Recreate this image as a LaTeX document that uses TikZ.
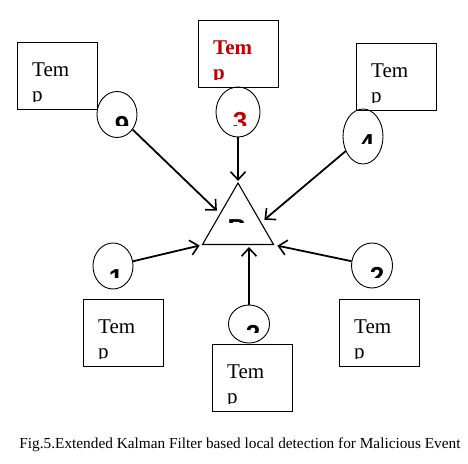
\documentclass[tikz,border=0pt]{standalone}
\usepackage{fontspec}
\setmainfont{Liberation Serif}
\newfontfamily\numfont{Liberation Sans}
\usepackage{tikz}
\usetikzlibrary{arrows.meta,positioning,shapes.geometric,calc}
\definecolor{TempRed}{HTML}{C00000}
\tikzset{
  wsn/temp/.style={draw, line width=1.1pt, minimum width=80pt, minimum height=67pt, inner sep=0pt, anchor=north west},
  wsn/sensor/.style={draw, ellipse, line width=0.9pt, minimum width=40pt, minimum height=46pt, inner sep=0pt},
  wsn/sink/.style={draw, regular polygon, regular polygon sides=3, minimum size=82pt, inner sep=0pt, line width=1.1pt},
  wsn/text/.style={font=\fontsize{21}{25}\selectfont, inner sep=0pt, anchor=base west},
  wsn/redtext/.style={wsn/text, text=TempRed, font=\bfseries\fontsize{21}{25}\selectfont},
  wsn/num/.style={font=\numfont\bfseries\fontsize{26}{30}\selectfont, inner sep=0pt, anchor=north},
  wsn/link/.style={line width=1.8pt, -{Straight Barb[length=8pt, width=15pt, line width=1.6pt]}},
  wsn/caption/.style={font=\fontsize{15.3}{18}\selectfont, inner sep=0pt, anchor=base}
}
% label whose lower part is cut off below #3
\newcommand{\cutlabel}[4]{%
  \begin{scope}
    \clip ($(#2)+(-40,-40)$) rectangle ($(#2)+(40,#3)$);
    \node[#1] at (#2) {#4};
  \end{scope}}

\begin{document}
\begin{tikzpicture}[x=1pt, y=-1pt]
  \useasboundingbox (0,0) rectangle (468,463);
  % sink
  \node[wsn/sink] (sink) at (238,224) {};
  \cutlabel{wsn/num}{237,219}{3}{B}
  % sensors
  \node[wsn/sensor] (s9) at (117,114.5) {};
  \node[wsn/sensor, minimum width=44pt, minimum height=50pt] (s3) at (238,112) {};
  \node[wsn/sensor, minimum height=55pt] (s4) at (363,136.5) {};
  \node[wsn/sensor] (s1) at (113,266) {};
  \node[wsn/sensor, minimum width=41pt, minimum height=38pt] (s2) at (249,324) {};
  \node[wsn/sensor, minimum width=41pt, minimum height=45pt] (s5) at (372,265.5) {};
  \cutlabel{wsn/num}{122,116}{9}{9}
  \cutlabel{wsn/num, text=TempRed}{240,112}{13}{3}
  \cutlabel{wsn/num}{367,134}{9}{4}
  \cutlabel{wsn/num}{116,269}{8}{1}
  \cutlabel{wsn/num}{253,325}{7}{2}
  \cutlabel{wsn/num}{377,267}{10}{2}
  % temperature boxes
  \node[wsn/temp] (b9) at (17,42) {};
  \node[wsn/temp] (b3) at (198,20) {};
  \node[wsn/temp] (b4) at (356,43) {};
  \node[wsn/temp] (b1) at (83,299) {};
  \node[wsn/temp] (b2) at (212,344) {};
  \node[wsn/temp] (b5) at (339,299) {};
  \node[wsn/text] at ($(b9.north west)+(15,34)$) {Tem};
  \node[wsn/redtext] at ($(b3.north west)+(15,34)$) {Tem};
  \node[wsn/text] at ($(b4.north west)+(15,34)$) {Tem};
  \node[wsn/text] at ($(b1.north west)+(15,34)$) {Tem};
  \node[wsn/text] at ($(b2.north west)+(15,34)$) {Tem};
  \node[wsn/text] at ($(b5.north west)+(15,34)$) {Tem};
  \cutlabel{wsn/text}{$(b9.north west)+(15,59)$}{0}{p}
  \cutlabel{wsn/redtext}{$(b3.north west)+(15,59)$}{0}{p}
  \cutlabel{wsn/text}{$(b4.north west)+(15,59)$}{0}{p}
  \cutlabel{wsn/text}{$(b1.north west)+(15,59)$}{0}{p}
  \cutlabel{wsn/text}{$(b2.north west)+(15,59)$}{0}{p}
  \cutlabel{wsn/text}{$(b5.north west)+(15,59)$}{0}{p}
  % links to the sink
  \draw[wsn/link, shorten >=4pt] (s9) -- (sink.side 1);
  \draw[wsn/link, shorten >=1pt] (s3) -- (sink.corner 1);
  \draw[wsn/link, shorten >=4pt] (s4) -- ($(sink.corner 1)!0.64!(sink.corner 3)$);
  \draw[wsn/link, shorten >=2pt] (s1) -- (sink.corner 2);
  \draw[wsn/link, shorten >=2pt] (s2) -- (s2 |- sink.side 2);
  \draw[wsn/link, shorten >=3pt] (s5) -- (sink.corner 3);
  \node[wsn/caption] (cap) at (240,448) {Fig.5.Extended Kalman Filter based local detection for Malicious Event};
\end{tikzpicture}
\end{document}
